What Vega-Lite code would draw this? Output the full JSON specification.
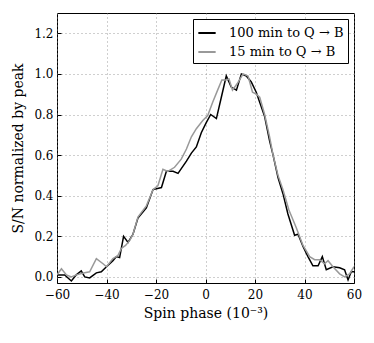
{
  "$schema": "https://vega.github.io/schema/vega-lite/v6.json",
  "width": 297,
  "height": 270,
  "autosize": "none",
  "padding": {"left": 57, "top": 13, "right": 20, "bottom": 60},
  "background": "white",
  "config": {
    "font": "DejaVu Serif",
    "view": {"stroke": "black", "strokeWidth": 1},
    "axis": {"labelFont": "DejaVu Serif", "titleFont": "DejaVu Serif"},
    "legend": {"labelFont": "DejaVu Serif"}
  },
  "data": {
    "values": [
      {"s": "100 min to Q → B", "x": -60, "y": 0.01},
      {"s": "100 min to Q → B", "x": -56.9, "y": 0.01},
      {"s": "100 min to Q → B", "x": -54.2, "y": -0.02},
      {"s": "100 min to Q → B", "x": -52.2, "y": 0.01},
      {"s": "100 min to Q → B", "x": -50.2, "y": 0.03},
      {"s": "100 min to Q → B", "x": -48.8, "y": 0.0},
      {"s": "100 min to Q → B", "x": -46.8, "y": -0.005},
      {"s": "100 min to Q → B", "x": -44.1, "y": 0.02},
      {"s": "100 min to Q → B", "x": -42.1, "y": 0.025},
      {"s": "100 min to Q → B", "x": -40, "y": 0.05},
      {"s": "100 min to Q → B", "x": -37.4, "y": 0.08},
      {"s": "100 min to Q → B", "x": -36, "y": 0.1},
      {"s": "100 min to Q → B", "x": -34.7, "y": 0.095},
      {"s": "100 min to Q → B", "x": -33.1, "y": 0.2},
      {"s": "100 min to Q → B", "x": -31.3, "y": 0.17},
      {"s": "100 min to Q → B", "x": -29.3, "y": 0.21},
      {"s": "100 min to Q → B", "x": -27.3, "y": 0.29},
      {"s": "100 min to Q → B", "x": -23.9, "y": 0.34},
      {"s": "100 min to Q → B", "x": -21.2, "y": 0.43},
      {"s": "100 min to Q → B", "x": -17.8, "y": 0.44},
      {"s": "100 min to Q → B", "x": -15.8, "y": 0.52},
      {"s": "100 min to Q → B", "x": -13.1, "y": 0.52},
      {"s": "100 min to Q → B", "x": -11.1, "y": 0.51},
      {"s": "100 min to Q → B", "x": -7.7, "y": 0.57},
      {"s": "100 min to Q → B", "x": -5.7, "y": 0.61},
      {"s": "100 min to Q → B", "x": -3.7, "y": 0.64},
      {"s": "100 min to Q → B", "x": -1.7, "y": 0.71},
      {"s": "100 min to Q → B", "x": 0.3, "y": 0.76},
      {"s": "100 min to Q → B", "x": 2.1, "y": 0.8},
      {"s": "100 min to Q → B", "x": 4.4, "y": 0.78},
      {"s": "100 min to Q → B", "x": 6.4, "y": 0.885},
      {"s": "100 min to Q → B", "x": 8.4, "y": 0.99},
      {"s": "100 min to Q → B", "x": 10.4, "y": 0.935},
      {"s": "100 min to Q → B", "x": 12.5, "y": 0.92},
      {"s": "100 min to Q → B", "x": 14.5, "y": 1.0},
      {"s": "100 min to Q → B", "x": 16.5, "y": 0.99},
      {"s": "100 min to Q → B", "x": 18.5, "y": 0.96},
      {"s": "100 min to Q → B", "x": 20.5, "y": 0.91},
      {"s": "100 min to Q → B", "x": 21.9, "y": 0.86},
      {"s": "100 min to Q → B", "x": 23.9, "y": 0.79},
      {"s": "100 min to Q → B", "x": 25.9, "y": 0.67},
      {"s": "100 min to Q → B", "x": 27.3, "y": 0.6},
      {"s": "100 min to Q → B", "x": 29.3, "y": 0.49},
      {"s": "100 min to Q → B", "x": 31.3, "y": 0.41},
      {"s": "100 min to Q → B", "x": 33.3, "y": 0.31},
      {"s": "100 min to Q → B", "x": 36, "y": 0.205},
      {"s": "100 min to Q → B", "x": 37.4, "y": 0.21},
      {"s": "100 min to Q → B", "x": 39.4, "y": 0.15},
      {"s": "100 min to Q → B", "x": 41.4, "y": 0.1},
      {"s": "100 min to Q → B", "x": 43.4, "y": 0.055},
      {"s": "100 min to Q → B", "x": 45.5, "y": 0.055},
      {"s": "100 min to Q → B", "x": 47.2, "y": 0.1},
      {"s": "100 min to Q → B", "x": 48.8, "y": 0.035},
      {"s": "100 min to Q → B", "x": 51.5, "y": 0.05},
      {"s": "100 min to Q → B", "x": 54.2, "y": 0.045},
      {"s": "100 min to Q → B", "x": 56.2, "y": 0.035},
      {"s": "100 min to Q → B", "x": 57.6, "y": -0.015},
      {"s": "100 min to Q → B", "x": 58.9, "y": 0.025},
      {"s": "100 min to Q → B", "x": 60, "y": 0.025},
      {"s": "15 min to Q → B", "x": -60, "y": 0.01},
      {"s": "15 min to Q → B", "x": -58.2, "y": 0.04},
      {"s": "15 min to Q → B", "x": -56.2, "y": 0.01},
      {"s": "15 min to Q → B", "x": -54.2, "y": 0.0},
      {"s": "15 min to Q → B", "x": -52.2, "y": 0.01},
      {"s": "15 min to Q → B", "x": -48.8, "y": 0.02},
      {"s": "15 min to Q → B", "x": -46.8, "y": 0.025},
      {"s": "15 min to Q → B", "x": -44.1, "y": 0.09},
      {"s": "15 min to Q → B", "x": -41.4, "y": 0.065},
      {"s": "15 min to Q → B", "x": -40, "y": 0.05},
      {"s": "15 min to Q → B", "x": -37.4, "y": 0.09},
      {"s": "15 min to Q → B", "x": -35.4, "y": 0.105},
      {"s": "15 min to Q → B", "x": -34, "y": 0.14},
      {"s": "15 min to Q → B", "x": -32.3, "y": 0.155},
      {"s": "15 min to Q → B", "x": -30.6, "y": 0.18},
      {"s": "15 min to Q → B", "x": -29.3, "y": 0.21},
      {"s": "15 min to Q → B", "x": -27.3, "y": 0.295},
      {"s": "15 min to Q → B", "x": -23.9, "y": 0.35},
      {"s": "15 min to Q → B", "x": -21.2, "y": 0.43},
      {"s": "15 min to Q → B", "x": -19.2, "y": 0.45},
      {"s": "15 min to Q → B", "x": -17.2, "y": 0.53},
      {"s": "15 min to Q → B", "x": -15.2, "y": 0.52},
      {"s": "15 min to Q → B", "x": -12.5, "y": 0.54},
      {"s": "15 min to Q → B", "x": -9.8, "y": 0.58},
      {"s": "15 min to Q → B", "x": -7.7, "y": 0.63},
      {"s": "15 min to Q → B", "x": -5.7, "y": 0.69},
      {"s": "15 min to Q → B", "x": -3.7, "y": 0.73},
      {"s": "15 min to Q → B", "x": -1.1, "y": 0.77},
      {"s": "15 min to Q → B", "x": 0.9, "y": 0.795},
      {"s": "15 min to Q → B", "x": 2.9, "y": 0.86},
      {"s": "15 min to Q → B", "x": 4.9, "y": 0.92},
      {"s": "15 min to Q → B", "x": 6.6, "y": 0.97},
      {"s": "15 min to Q → B", "x": 8.2, "y": 0.97},
      {"s": "15 min to Q → B", "x": 9.5, "y": 0.975},
      {"s": "15 min to Q → B", "x": 10.9, "y": 0.92},
      {"s": "15 min to Q → B", "x": 12.7, "y": 0.95},
      {"s": "15 min to Q → B", "x": 15.2, "y": 1.0},
      {"s": "15 min to Q → B", "x": 17.2, "y": 0.99},
      {"s": "15 min to Q → B", "x": 19.0, "y": 0.91},
      {"s": "15 min to Q → B", "x": 20.5, "y": 0.9},
      {"s": "15 min to Q → B", "x": 21.9, "y": 0.885},
      {"s": "15 min to Q → B", "x": 23.9, "y": 0.8},
      {"s": "15 min to Q → B", "x": 25.9, "y": 0.69},
      {"s": "15 min to Q → B", "x": 27.3, "y": 0.6},
      {"s": "15 min to Q → B", "x": 29.3, "y": 0.5},
      {"s": "15 min to Q → B", "x": 31.3, "y": 0.43},
      {"s": "15 min to Q → B", "x": 33.7, "y": 0.33},
      {"s": "15 min to Q → B", "x": 36.6, "y": 0.245},
      {"s": "15 min to Q → B", "x": 39.4, "y": 0.155},
      {"s": "15 min to Q → B", "x": 42.1, "y": 0.1},
      {"s": "15 min to Q → B", "x": 44.1, "y": 0.085},
      {"s": "15 min to Q → B", "x": 46.1, "y": 0.085},
      {"s": "15 min to Q → B", "x": 48.1, "y": 0.065},
      {"s": "15 min to Q → B", "x": 49.5, "y": 0.08},
      {"s": "15 min to Q → B", "x": 51.5, "y": 0.05},
      {"s": "15 min to Q → B", "x": 54.2, "y": 0.015},
      {"s": "15 min to Q → B", "x": 56.2, "y": 0.0},
      {"s": "15 min to Q → B", "x": 58.2, "y": 0.015},
      {"s": "15 min to Q → B", "x": 60, "y": 0.05}
    ]
  },
  "mark": {"type": "line", "strokeWidth": 1.5, "clip": true},
  "encoding": {
    "x": {
      "field": "x", "type": "quantitative",
      "scale": {"domain": [-60, 60], "nice": false, "zero": false},
      "axis": {
        "title": "Spin phase (10⁻³)",
        "values": [-60, -40, -20, 0, 20, 40, 60],
        "grid": true, "gridDash": [1, 3], "gridColor": "#888", "gridOpacity": 0.8,
        "domain": false, "tickColor": "black", "tickSize": -4,
        "labelFlush": false, "labelOverlap": false,
        "labelFontSize": 12, "labelColor": "black", "labelPadding": 10,
        "titleFontSize": 14, "titleFontWeight": "normal", "titleColor": "black", "titlePadding": 6
      }
    },
    "y": {
      "field": "y", "type": "quantitative",
      "scale": {"domain": [-0.03, 1.3], "nice": false, "zero": false},
      "axis": {
        "title": "S/N normalized by peak",
        "values": [0, 0.2, 0.4, 0.6, 0.8, 1.0, 1.2],
        "format": ".1f",
        "grid": true, "gridDash": [1, 3], "gridColor": "#888", "gridOpacity": 0.8,
        "domain": false, "tickColor": "black", "tickSize": -4,
        "labelFlush": false,
        "labelFontSize": 12, "labelColor": "black", "labelPadding": 8,
        "titleFontSize": 14, "titleFontWeight": "normal", "titleColor": "black", "titlePadding": 8
      }
    },
    "color": {
      "field": "s", "type": "nominal",
      "scale": {"domain": ["100 min to Q → B", "15 min to Q → B"], "range": ["#000000", "#999999"]},
      "legend": {
        "title": null, "orient": "top-right", "offset": 6,
        "symbolType": "stroke", "symbolStrokeWidth": 2, "symbolSize": 300,
        "labelFontSize": 13, "labelColor": "black", "labelOffset": 12,
        "strokeColor": "black", "fillColor": "white", "padding": 4,
        "rowPadding": 2
      }
    }
  }
}
